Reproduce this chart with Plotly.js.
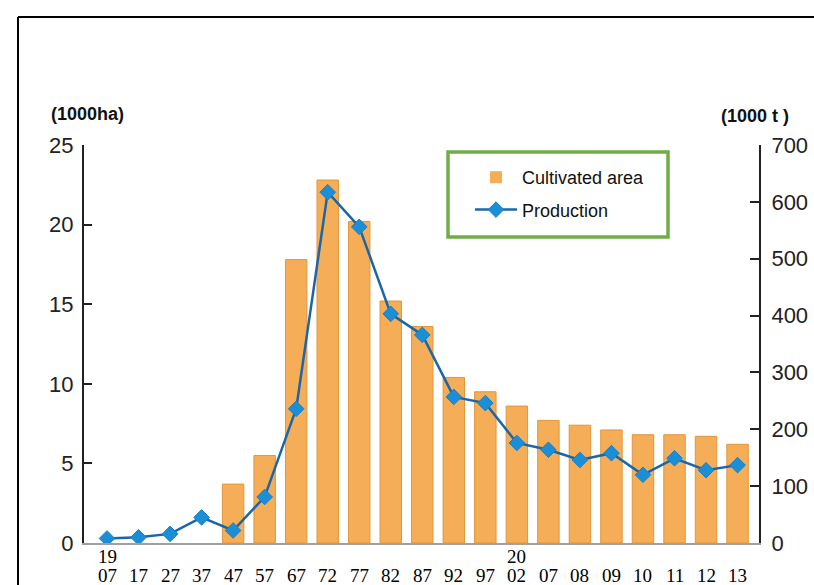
<!DOCTYPE html>
<html>
<head>
<meta charset="utf-8">
<script src="https://cdn.plot.ly/plotly-3.0.1.min.js"></script>
<style>html,body{margin:0;padding:0;background:#fff;}#chart{width:814px;height:585px;}</style>
</head>
<body>
<div id="chart"></div>
<script>
// Data
const years = ["1907","1917","1927","1937","1947","1957","1967","1972","1977","1982","1987","1992","1997","2002","2007","2008","2009","2010","2011","2012","2013"];
const centuryLabels = ["19","","","","","","","","","","","","","20","","","","","","",""];
const yearLabels = ["07","17","27","37","47","57","67","72","77","82","87","92","97","02","07","08","09","10","11","12","13"];
const cultivatedArea = [0,0,0,0,3.7,5.5,17.8,22.8,20.2,15.2,13.6,10.4,9.5,8.6,7.7,7.4,7.1,6.8,6.8,6.7,6.2];
const production = [8,10,16,45,22,81,236,617,556,403,366,257,246,176,164,146,158,120,149,128,137];
const leftTicks = [0,5,10,15,20,25];
const rightTicks = [0,100,200,300,400,500,600,700];

const L = 84, R = 759, T = 145, B = 543, W = 814, H = 585;
const px = v => (v - L) / (R - L);
const py = v => (B - v) / (B - T);

const tickFont = {family: "Liberation Sans Narrow, Arial Narrow, Liberation Sans, Arial, sans-serif", size: 22, color: "#222"};
const xFont = {family: "Liberation Serif, Times New Roman, serif", size: 19, color: "#000"};

const traces = [
  {
    type: "bar", name: "Cultivated area", x: years, y: cultivatedArea,
    width: 0.68, legendgroup: "a",
    marker: {color: "#F5AD57", line: {color: "#E0963A", width: cultivatedArea.map(v => v > 0 ? 1 : 0)}},
    yaxis: "y", hoverinfo: "x+y"
  },
  {
    type: "scatter", mode: "lines+markers", name: "Production", x: years, y: production,
    legendgroup: "b", yaxis: "y2",
    line: {color: "#1a66aa", width: 2.5},
    marker: {symbol: "diamond", size: 12, color: "#1a8fd6", line: {color: "#1a7fc6", width: 1}}
  }
];

const annotations = [
  {xref: "paper", yref: "paper", x: px(49), y: py(114), xanchor: "left", yanchor: "middle", showarrow: false,
   text: "<b>(1000ha)</b>", font: {family: "Liberation Sans, Arial, sans-serif", size: 18, color: "#111"}},
  {xref: "paper", yref: "paper", x: px(719), y: py(116), xanchor: "left", yanchor: "middle", showarrow: false,
   text: "<b>(1000 t )</b>", font: {family: "Liberation Sans, Arial, sans-serif", size: 18, color: "#111"}}
];
years.forEach((yr, i) => {
  if (centuryLabels[i]) {
    annotations.push({xref: "x", yref: "paper", x: i, y: py(556), yanchor: "middle", showarrow: false,
      text: centuryLabels[i], font: xFont});
  }
  annotations.push({xref: "x", yref: "paper", x: i, y: py(575), yanchor: "middle", showarrow: false,
    text: yearLabels[i], font: xFont});
});

const layout = {
  width: W, height: H,
  margin: {l: L, r: W - R, t: T, b: H - B, pad: 0},
  paper_bgcolor: "#fff", plot_bgcolor: "#fff",
  showlegend: true,
  legend: {
    x: px(470), y: py(159), xanchor: "left", yanchor: "top",
    bgcolor: "rgba(0,0,0,0)", borderwidth: 0,
    font: {family: "Liberation Sans, Arial, sans-serif", size: 18, color: "#111"},
    traceorder: "grouped", tracegroupgap: 6, itemwidth: 42
  },
  xaxis: {
    type: "category", range: [-0.73, 20.68],
    showline: true, linecolor: "#a0a0a0", linewidth: 1.5,
    ticks: "", showgrid: false, zeroline: false, showticklabels: false
  },
  yaxis: {
    range: [0, 25], tickvals: leftTicks, ticktext: leftTicks.map(String),
    showline: true, linecolor: "#222", linewidth: 2,
    ticks: "inside", ticklen: 8, tickwidth: 2, tickcolor: "#222",
    showgrid: false, zeroline: false, tickfont: tickFont,
    ticklabelstandoff: 4
  },
  yaxis2: {
    range: [0, 700], overlaying: "y", side: "right",
    tickvals: rightTicks, ticktext: rightTicks.map(String),
    showline: true, linecolor: "#222", linewidth: 2,
    ticks: "inside", ticklen: 9, tickwidth: 2, tickcolor: "#222",
    showgrid: false, zeroline: false, tickfont: tickFont,
    ticklabelstandoff: 6
  },
  shapes: [
    {type: "line", xref: "paper", yref: "paper", x0: px(18), x1: px(830), y0: py(17), y1: py(17), line: {color: "#000", width: 2}},
    {type: "line", xref: "paper", yref: "paper", x0: px(18), x1: px(18), y0: py(17), y1: py(600), line: {color: "#000", width: 2}},
    {type: "rect", xref: "paper", yref: "paper", x0: px(448), x1: px(668), y0: py(237), y1: py(152), line: {color: "#70AD47", width: 3.5}, fillcolor: "rgba(0,0,0,0)"}
  ],
  annotations: annotations
};

Plotly.newPlot("chart", traces, layout, {displayModeBar: false, staticPlot: true});
</script>
</body>
</html>
